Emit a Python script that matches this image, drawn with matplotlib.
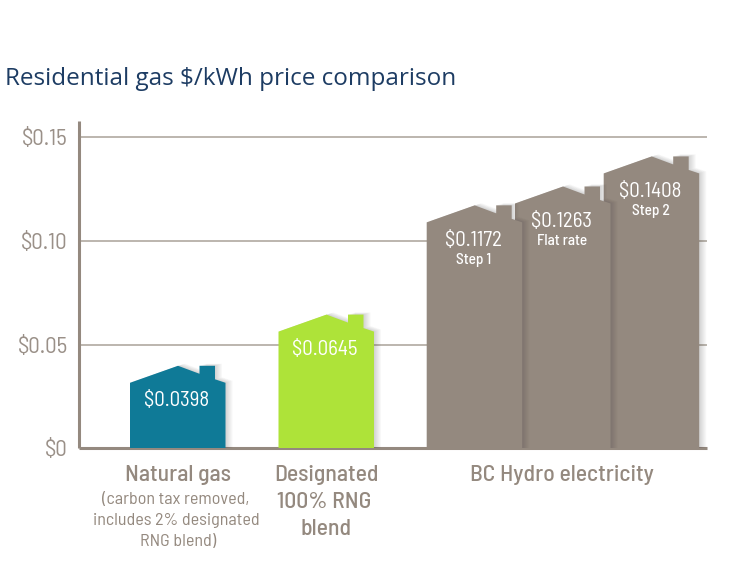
import matplotlib
matplotlib.use("Agg")
import matplotlib.pyplot as plt
from matplotlib.patches import Polygon

W, H = 750, 586
NARROW = ["Barlow Semi Condensed", "Roboto", "DejaVu Sans"]

# Data
values = [0.0398, 0.0645, 0.1172, 0.1263, 0.1408]
value_labels = ["$0.0398", "$0.0645", "$0.1172", "$0.1263", "$0.1408"]
sub_labels = ["", "", "Step 1", "Flat rate", "Step 2"]
bar_colors = ["#0f7a97", "#aee339", "#94897f", "#94897f", "#94897f"]
y_ticks = [0, 0.05, 0.10, 0.15]
y_tick_labels = ["$0", "$0.05", "$0.10", "$0.15"]
title = "Residential gas $/kWh price comparison"

# Layout (x axis in reference pixels)
lefts = [130, 278.5, 426.7, 515, 603.7]
BAR_W = 95.5
AX_L, AX_R, AX_B, AX_T = 79, 707, 448.3, 120.7
PX_PER_UNIT = 2073.0
GREY = "#94897f"
LINE = "#aaa299"

fig = plt.figure(figsize=(W / 100, H / 100), dpi=100, facecolor="white")
ax = fig.add_axes([AX_L / W, 1 - AX_B / H, (AX_R - AX_L) / W, (AX_B - AX_T) / H])
ax.set_xlim(AX_L, AX_R)
ax.set_ylim(0, (AX_B - AX_T) / PX_PER_UNIT)
ax.set_xticks([])
ax.set_yticks(y_ticks)
ax.set_yticklabels(y_tick_labels, fontsize=16.5, color="#9a9088", family=NARROW)
ax.tick_params(axis="y", length=0, pad=8)
for s in ("top", "right"):
    ax.spines[s].set_visible(False)
for s in ("left", "bottom"):
    ax.spines[s].set_color(GREY)
    ax.spines[s].set_linewidth(2.2)
    ax.spines[s].set_capstyle("butt")
    ax.spines[s].set_zorder(8)
for t in y_ticks[1:]:
    ax.axhline(t, color=LINE, lw=1.1, zorder=1)


def house(left, value, dx=0.0, dy=0.0):
    """House outline whose roof apex stands at the bar value."""
    u = 1 / PX_PER_UNIT
    eave = value - 17 * u
    return [
        (left + dx, 0),
        (left + dx, eave + dy * u),
        (left + 48 + dx, value + dy * u),
        (left + 69.5 + dx, value - 8 * u + dy * u),
        (left + 69.5 + dx, value + dy * u),
        (left + 85 + dx, value + dy * u),
        (left + 85 + dx, value - 13.5 * u + dy * u),
        (left + BAR_W + dx, eave + dy * u),
        (left + BAR_W + dx, 0),
    ]


# Later bars sit behind earlier ones
for i in range(len(values) - 1, -1, -1):
    z = 10 + (len(values) - i) * 2
    for off in range(7, 0, -1):
        ax.add_patch(Polygon(house(lefts[i], values[i], off, off * 0.3), closed=True,
                             fc="#3a3a3a", ec="none", alpha=0.03, zorder=z))
    ax.add_patch(Polygon(house(lefts[i], values[i]), closed=True, fc=bar_colors[i],
                         ec="none", zorder=z + 1))
    cx = lefts[i] + BAR_W / 2
    u = 1 / PX_PER_UNIT
    ax.text(cx - 1.5, values[i] - 35 * u, value_labels[i], color="white", fontsize=15,
            family=NARROW, ha="center", va="center", zorder=30)
    if sub_labels[i]:
        ax.text(cx - 1, values[i] - 54.5 * u, sub_labels[i], color="white", fontsize=11,
                family=NARROW, fontweight="medium", ha="center", va="center", zorder=30)


def ftext(x, y, s, **kw):
    fig.text(x / W, 1 - y / H, s, ha="center", va="center", family=NARROW, **kw)


LABEL = "#94897f"
ftext(178, 475, "Natural gas", fontsize=17, color=LABEL, fontweight="medium")
ftext(176, 499, "(carbon tax removed,", fontsize=13, color=LABEL)
ftext(176, 521, "includes 2% designated", fontsize=13, color=LABEL)
ftext(178, 542, "RNG blend)", fontsize=13, color=LABEL)
ftext(326, 475, "Designated", fontsize=17, color=LABEL, fontweight="medium")
ftext(324, 502, "100% RNG", fontsize=17, color=LABEL, fontweight="medium")
ftext(326, 529, "blend", fontsize=17, color=LABEL, fontweight="medium")
ftext(562, 475, "BC Hydro electricity", fontsize=17, color=LABEL, fontweight="medium")

fig.text(5 / W, 1 - 79 / H, title, fontsize=17.5, color="#1d3c63", family=["Open Sans", "DejaVu Sans"],
         ha="left", va="center")

fig.savefig("out.png", dpi=100, facecolor="white")
